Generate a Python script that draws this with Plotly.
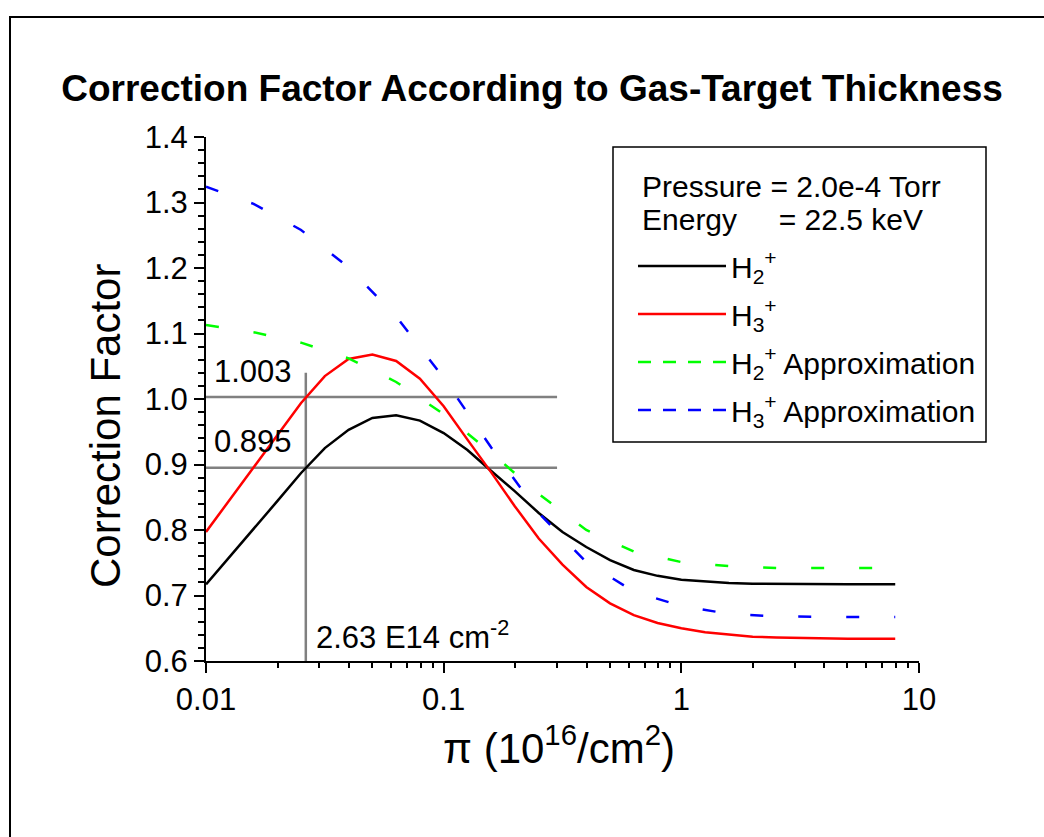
import plotly.graph_objects as go

# Gas-target thickness grid in units of 10^16 /cm^2 (ten points per decade)
thickness = [0.01, 0.01259, 0.01585, 0.01995, 0.02512, 0.03162, 0.03981, 0.05012, 0.06310, 0.07943,
             0.1, 0.1259, 0.1585, 0.1995, 0.2512, 0.3162, 0.3981, 0.5012, 0.6310, 0.7943,
             1.0, 1.259, 1.585, 1.995, 2.512, 3.162, 3.981, 5.012, 6.310, 7.943]

# Correction factors computed for the molecular ions
h2_factor = [0.717, 0.759, 0.802, 0.844, 0.887, 0.925, 0.953, 0.971, 0.975, 0.967,
             0.948, 0.922, 0.890, 0.859, 0.826, 0.797, 0.774, 0.754, 0.739, 0.730,
             0.724, 0.721, 0.719, 0.718, 0.7175, 0.717, 0.717, 0.717, 0.717, 0.717]
h3_factor = [0.797, 0.846, 0.895, 0.944, 0.994, 1.035, 1.061, 1.068, 1.058, 1.031,
             0.989, 0.938, 0.888, 0.836, 0.787, 0.747, 0.713, 0.688, 0.670, 0.658,
             0.650, 0.644, 0.640, 0.637, 0.636, 0.635, 0.634, 0.634, 0.634, 0.634]

# Approximations, evaluated on a coarser grid
approx_thickness = [0.01, 0.01585, 0.02512, 0.03981, 0.06310, 0.1, 0.1585, 0.2512,
                    0.3981, 0.6310, 1.0, 1.585, 2.512, 3.981, 6.310, 7.943]
h2_approx = [1.113, 1.102, 1.086, 1.062, 1.026, 0.977, 0.918, 0.855,
             0.800, 0.767, 0.751, 0.745, 0.742, 0.742, 0.742, 0.742]
h3_approx = [1.324, 1.298, 1.258, 1.201, 1.126, 1.032, 0.926, 0.826,
             0.751, 0.706, 0.684, 0.672, 0.668, 0.667, 0.667, 0.667]

# Operating point read-off
marker_thickness = 0.0263
marker_levels = [1.003, 0.895]
guide_x_end = 0.3
guide_y_top = 1.04

# Axis ticks
x_ticks = [0.01, 0.1, 1, 10]
x_tick_labels = ["0.01", "0.1", "1", "10"]
y_ticks = [0.6, 0.7, 0.8, 0.9, 1.0, 1.1, 1.2, 1.3, 1.4]
y_tick_labels = [f"{v:.1f}" for v in y_ticks]

FONT = "Liberation Sans, Arial, Helvetica, sans-serif"
GREY = "#808080"
APPROX_DASH = "13px,35px"
LEGEND_DASH = "13px,12px"
CURVE_WIDTH = 2.5

fig = go.Figure()

# Read-off guide lines
for level in marker_levels:
    fig.add_trace(go.Scatter(x=[thickness[0], guide_x_end], y=[level, level], mode="lines",
                             line=dict(color=GREY, width=2.5), showlegend=False, hoverinfo="skip"))
fig.add_trace(go.Scatter(x=[marker_thickness, marker_thickness], y=[y_ticks[0], guide_y_top],
                         mode="lines", line=dict(color=GREY, width=2.5),
                         showlegend=False, hoverinfo="skip"))

# Curves
fig.add_trace(go.Scatter(x=thickness, y=h2_factor, mode="lines",
                         line=dict(color="black", width=CURVE_WIDTH), showlegend=False))
fig.add_trace(go.Scatter(x=thickness, y=h3_factor, mode="lines",
                         line=dict(color="#ff0000", width=CURVE_WIDTH), showlegend=False))
fig.add_trace(go.Scatter(x=approx_thickness, y=h2_approx, mode="lines",
                         line=dict(color="#00ff00", width=CURVE_WIDTH, dash=APPROX_DASH),
                         showlegend=False))
fig.add_trace(go.Scatter(x=approx_thickness, y=h3_approx, mode="lines",
                         line=dict(color="#0000ff", width=CURVE_WIDTH, dash=APPROX_DASH),
                         showlegend=False))

# Legend entries
legend_entries = [
    ("H<sub>2</sub><sup>+</sup>", "black", "solid"),
    ("H<sub>3</sub><sup>+</sup>", "#ff0000", "solid"),
    ("H<sub>2</sub><sup>+</sup> Approximation", "#00ff00", LEGEND_DASH),
    ("H<sub>3</sub><sup>+</sup> Approximation", "#0000ff", LEGEND_DASH),
]
for i, (name, color, dash) in enumerate(legend_entries):
    fig.add_trace(go.Scatter(x=[None], y=[None], mode="lines", name=name, legendgroup=f"g{i}",
                             line=dict(color=color, width=CURVE_WIDTH, dash=dash)))

# Value labels for the read-off
for level in marker_levels:
    fig.add_annotation(x=-2, y=level, xref="x", yref="y", text=f"{level:.3f}",
                       showarrow=False, xanchor="left", yanchor="middle",
                       xshift=6, yshift=26, font=dict(size=31))
fig.add_annotation(x=-1.58, y=y_ticks[0], xref="x", yref="y",
                   text=f"{marker_thickness * 100:.2f} E14 cm<sup>-2</sup>",
                   showarrow=False, xanchor="left", yanchor="middle",
                   xshift=8, yshift=26, font=dict(size=31))

# Legend header
fig.add_annotation(x=(640 - 206) / 713, y=(661 - 186) / 524, xref="paper", yref="paper",
                   text="Pressure = 2.0e-4 Torr", showarrow=False, xanchor="left",
                   yanchor="middle", font=dict(size=30))
fig.add_annotation(x=(640 - 206) / 713, y=(661 - 220) / 524, xref="paper", yref="paper",
                   text="Energy\u00a0\u00a0\u00a0\u00a0\u00a0= 22.5 keV", showarrow=False,
                   xanchor="left", yanchor="middle", font=dict(size=30))

# Axis titles
fig.add_annotation(x=(105 - 206) / 713, y=(661 - 426) / 524, xref="paper", yref="paper",
                   text="Correction Factor", textangle=-90, showarrow=False,
                   xanchor="center", yanchor="middle", font=dict(size=42))
fig.add_annotation(x=(559 - 206) / 713, y=(661 - 745) / 524, xref="paper", yref="paper",
                   text="\u03c0 (10<sup>16</sup>/cm<sup>2</sup>)", showarrow=False,
                   xanchor="center", yanchor="middle", font=dict(size=42))

# Legend box and page frame
fig.add_shape(type="rect", xref="paper", yref="paper",
              x0=(613 - 206) / 713, x1=(986 - 206) / 713,
              y0=(661 - 442) / 524, y1=(661 - 147) / 524,
              line=dict(color="black", width=1.5), fillcolor="rgba(0,0,0,0)")
fig.add_shape(type="rect", xref="paper", yref="paper",
              x0=(10 - 206) / 713, x1=(1060 - 206) / 713,
              y0=(661 - 860) / 524, y1=(661 - 17) / 524,
              line=dict(color="black", width=2), fillcolor="rgba(0,0,0,0)")

minor_x = [m * 10 ** e for e in (-2, -1, 0) for m in range(2, 10)]

fig.update_layout(
    width=1044, height=837,
    margin=dict(l=206, r=125, t=137, b=176),
    paper_bgcolor="white", plot_bgcolor="white",
    font=dict(family=FONT, color="black", size=30),
    title=dict(text="<b>Correction Factor According to Gas-Target Thickness</b>",
               x=532 / 1044, xanchor="center", y=1 - 88 / 837, yanchor="middle",
               font=dict(size=37, family=FONT, color="black")),
    legend=dict(x=(633 - 206) / 713, y=(661 - 240) / 524, xanchor="left", yanchor="top",
                bgcolor="rgba(0,0,0,0)", borderwidth=0, font=dict(size=30),
                itemwidth=88, tracegroupgap=6, traceorder="grouped"),
    xaxis=dict(type="log", range=[-2, 1], showline=True, linecolor="black", linewidth=2,
               ticks="outside", ticklen=10, tickwidth=2, tickcolor="black",
               tickmode="array", tickvals=x_ticks, ticktext=x_tick_labels,
               tickfont=dict(size=31), showgrid=False, zeroline=False,
               minor=dict(tickmode="array", tickvals=minor_x, ticks="outside", ticklen=5,
                          tickwidth=2, tickcolor="black", showgrid=False)),
    yaxis=dict(range=[0.6, 1.4], showline=True, linecolor="black", linewidth=2,
               ticks="outside", ticklen=10, tickwidth=2, tickcolor="black",
               tickmode="array", tickvals=y_ticks, ticktext=y_tick_labels,
               tickfont=dict(size=31), showgrid=False, zeroline=False,
               minor=dict(tick0=0.6, dtick=0.02, ticks="outside", ticklen=6,
                          tickwidth=2, tickcolor="black", showgrid=False)),
)

fig.write_html("out.html")
